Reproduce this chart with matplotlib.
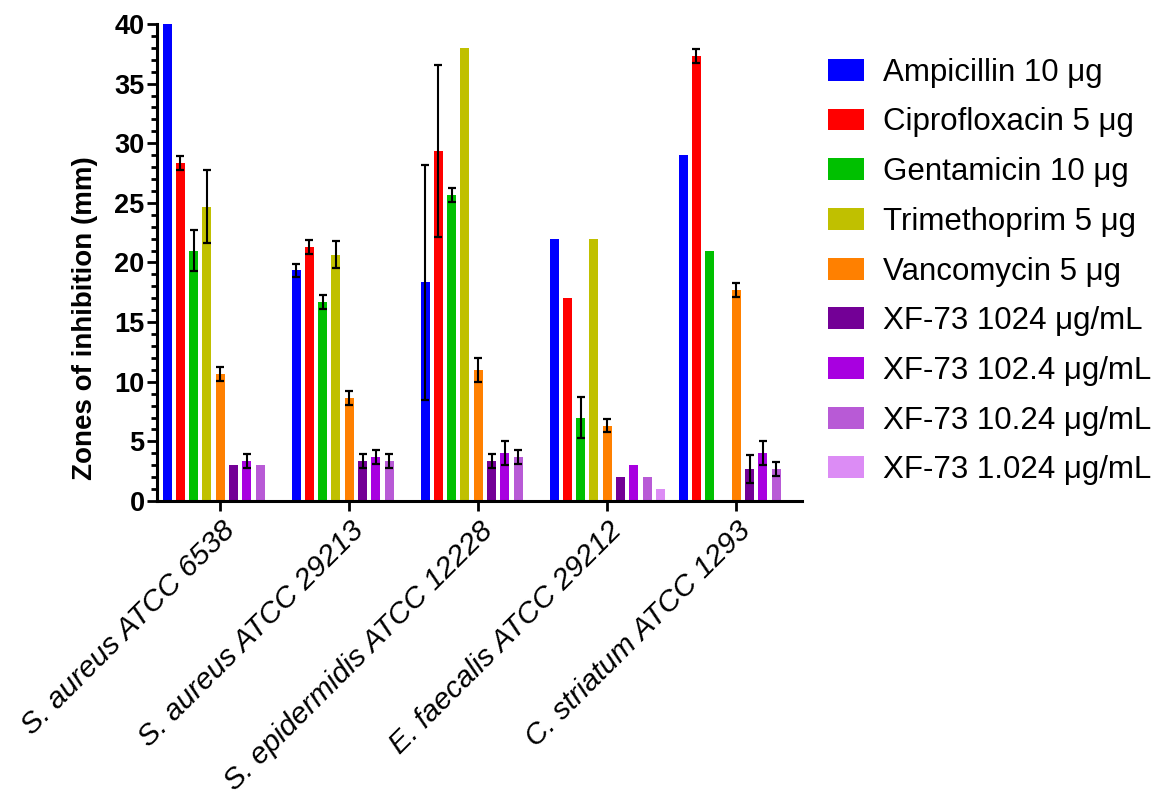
import numpy as np
import matplotlib
matplotlib.use("Agg")
import matplotlib.pyplot as plt
from matplotlib.ticker import MultipleLocator

plt.rcParams['font.family'] = ['Liberation Sans', 'DejaVu Sans']

strains = ["S. aureus ATCC 6538", "S. aureus ATCC 29213", "S. epidermidis ATCC 12228",
           "E. faecalis ATCC 29212", "C. striatum ATCC 1293"]

treatments = ["Ampicillin 10 μg", "Ciprofloxacin 5 μg", "Gentamicin 10 μg",
              "Trimethoprim 5 μg", "Vancomycin 5 μg", "XF-73 1024 μg/mL",
              "XF-73 102.4 μg/mL", "XF-73 10.24 μg/mL", "XF-73 1.024 μg/mL"]

colors = ["#0000FF", "#FF0000", "#00C000", "#C0C000", "#FF8000",
          "#730096", "#A800E0", "#B85AD6", "#DC8CF5"]

# mean zone diameters (mm), one list per treatment, ordered by strain
ampicillin    = [40.0, 19.33, 18.33, 22.0, 29.0]
ciprofloxacin = [28.33, 21.33, 29.33, 17.0, 37.33]
gentamicin    = [21.0, 16.67, 25.67, 7.0, 21.0]
trimethoprim  = [24.67, 20.67, 38.0, 22.0, 0.0]
vancomycin    = [10.67, 8.67, 11.0, 6.33, 17.67]
xf73_1024     = [3.0, 3.33, 3.33, 2.0, 2.67]
xf73_102      = [3.33, 3.67, 4.0, 3.0, 4.0]
xf73_10       = [3.0, 3.33, 3.67, 2.0, 2.67]
xf73_1        = [0.0, 0.0, 0.0, 1.0, 0.0]

# standard deviations (mm)
ampicillin_sd    = [0.0, 0.58, 9.87, 0.0, 0.0]
ciprofloxacin_sd = [0.58, 0.58, 7.23, 0.0, 0.58]
gentamicin_sd    = [1.73, 0.58, 0.58, 1.73, 0.0]
trimethoprim_sd  = [3.06, 1.15, 0.0, 0.0, 0.0]
vancomycin_sd    = [0.58, 0.58, 1.0, 0.58, 0.58]
xf73_1024_sd     = [0.0, 0.58, 0.58, 0.0, 1.15]
xf73_102_sd      = [0.58, 0.58, 1.0, 0.0, 1.0]
xf73_10_sd       = [0.0, 0.58, 0.58, 0.0, 0.58]
xf73_1_sd        = [0.0, 0.0, 0.0, 0.0, 0.0]

means = [ampicillin, ciprofloxacin, gentamicin, trimethoprim, vancomycin,
         xf73_1024, xf73_102, xf73_10, xf73_1]
sds = [ampicillin_sd, ciprofloxacin_sd, gentamicin_sd, trimethoprim_sd, vancomycin_sd,
       xf73_1024_sd, xf73_102_sd, xf73_10_sd, xf73_1_sd]

fig = plt.figure(figsize=(11.7, 7.94), dpi=100)
ax = fig.add_axes([0.1342, 0.369, 0.5513, 0.6008])

x = np.arange(len(strains))
slot = 0.103
width = 0.07
n = len(treatments)
for i, (m, s, c, lab) in enumerate(zip(means, sds, colors, treatments)):
    pos = x + (i - (n - 1) / 2) * slot
    m = np.array(m)
    s = np.array(s)
    ax.bar(pos, m, width=width, color=c, label=lab, zorder=2)
    mask = s > 0
    ax.errorbar(pos[mask], m[mask], yerr=s[mask], fmt='none', ecolor='black',
                elinewidth=1.5, capsize=2.8, capthick=1.6, zorder=3)

ax.set_xlim(-0.49, 4.51)
ax.set_ylim(0, 40)
ax.yaxis.set_major_locator(MultipleLocator(5))
ax.yaxis.set_minor_locator(MultipleLocator(1))

for side in ("top", "right"):
    ax.spines[side].set_visible(False)
for side in ("left", "bottom"):
    ax.spines[side].set_linewidth(2.2)

ax.tick_params(axis='y', which='major', length=7, width=2, labelsize=19.5, pad=2)
ax.tick_params(axis='y', which='minor', length=4.5, width=2)
ax.tick_params(axis='x', which='major', length=7, width=2, pad=4)
for t in ax.get_yticklabels():
    t.set_fontweight('bold')

ax.set_xticks(x)
ax.set_xticklabels(strains, rotation=45, ha='right', rotation_mode='anchor',
                   fontsize=21.5, fontstyle='italic')

ax.set_ylabel("Zones of inhibition (mm)", fontsize=20, fontweight='bold')
ax.yaxis.set_label_coords(-0.092, 0.384)

fig.legend(loc='upper left', bbox_to_anchor=(0.697, 0.943), frameon=False,
           fontsize=22.5, handlelength=1.15, handleheight=0.7, handletextpad=0.6,
           labelspacing=0.63, borderaxespad=0)

fig.savefig("out.png", dpi=100)
